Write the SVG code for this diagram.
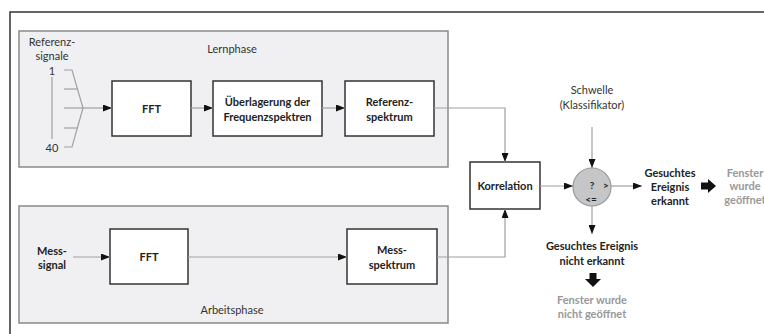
<svg xmlns="http://www.w3.org/2000/svg" width="764" height="334" viewBox="0 0 764 334">
<defs>
<marker id="ah" markerWidth="9" markerHeight="7" refX="9" refY="3.5" orient="auto" markerUnits="userSpaceOnUse">
<path d="M0,0 L9,3.5 L0,7 Z" fill="#111"/>
</marker>
</defs>
<style>
text{font-family:Lato,"Open Sans","Liberation Sans",sans-serif;text-anchor:middle;dominant-baseline:central}
.t{font-size:11px;fill:#333}
.b{font-size:11px;font-weight:bold;fill:#222}
.g{font-size:11px;font-weight:bold;fill:#999}
.s{font-size:10px;font-weight:bold;fill:#222}
.box{fill:#fff;stroke:#333;stroke-width:1.5}
.panel{fill:#f0f0f2;stroke:#8a8a8a;stroke-width:1.5}
.c{fill:none;stroke:#a0a0a0;stroke-width:1.2}
.ca{fill:none;stroke:#a0a0a0;stroke-width:1.2;marker-end:url(#ah)}
</style>
<rect x="10" y="12" width="800" height="400" fill="#fff" stroke="#333" stroke-width="1.5"/>
<g id="lernphase">
<rect class="panel" x="19" y="31" width="429" height="136"/>
<text class="t" x="232" y="48">Lernphase</text>
</g>
<g id="arbeitsphase">
<rect class="panel" x="19" y="206" width="429" height="117"/>
<text class="t" x="232" y="309">Arbeitsphase</text>
</g>
<g id="referenzsignale">
<text class="t" x="52" y="41">Referenz-</text>
<text class="t" x="52" y="55">signale</text>
<text class="t" x="52" y="70">1</text>
<text class="t" x="52" y="147">40</text>
</g>
<g id="fft1">
<rect class="box" x="112" y="81" width="79" height="55"/>
<text class="b" x="151.5" y="108.5">FFT</text>
</g>
<g id="ueberlagerung">
<rect class="box" x="213" y="81" width="109" height="55"/>
<text class="b" x="267.5" y="101">Überlagerung der</text>
<text class="b" x="267.5" y="116">Frequenzspektren</text>
</g>
<g id="referenzspektrum">
<rect class="box" x="345" y="81" width="89" height="55"/>
<text class="b" x="389.5" y="101">Referenz-</text>
<text class="b" x="389.5" y="116">spektrum</text>
</g>
<g id="messsignal">
<text class="b" x="52" y="250">Mess-</text>
<text class="b" x="52" y="264">signal</text>
</g>
<g id="fft2">
<rect class="box" x="110" y="229" width="78" height="55"/>
<text class="b" x="149" y="256.5">FFT</text>
</g>
<g id="messspektrum">
<rect class="box" x="347" y="229" width="90" height="55"/>
<text class="b" x="392" y="249">Mess-</text>
<text class="b" x="392" y="264">spektrum</text>
</g>
<g id="korrelation">
<rect class="box" x="470" y="162" width="70" height="47"/>
<text class="b" x="505" y="185.5">Korrelation</text>
</g>
<g id="schwelle">
<text class="t" x="592" y="89">Schwelle</text>
<text class="t" x="592" y="104">(Klassifikator)</text>
</g>
<g id="vergleich">
<circle cx="592" cy="187" r="19" fill="#c6c6c8" stroke="#9a9a9a" stroke-width="1.2"/>
<text class="s" x="592" y="185">?</text>
<text class="s" x="606" y="185">&gt;</text>
<text class="s" x="591" y="199">&lt;=</text>
</g>
<g id="erkannt">
<text class="b" x="670" y="172">Gesuchtes</text>
<text class="b" x="670" y="186">Ereignis</text>
<text class="b" x="670" y="200">erkannt</text>
</g>
<g id="geoeffnet">
<text class="g" x="745" y="172">Fenster</text>
<text class="g" x="745" y="185">wurde</text>
<text class="g" x="745" y="199">geöffnet</text>
</g>
<g id="nichterkannt">
<text class="b" x="592" y="245">Gesuchtes Ereignis</text>
<text class="b" x="592" y="260">nicht erkannt</text>
</g>
<g id="nichtgeoeffnet">
<text class="g" x="592" y="299">Fenster wurde</text>
<text class="g" x="592" y="313">nicht geöffnet</text>
</g>
<g id="connectors">
<polyline class="c" points="64,70 72,70 83,108 72,147 64,147"/>
<line class="c" x1="52" y1="77" x2="52" y2="139"/>
<line class="c" x1="64" y1="89" x2="77.5" y2="89"/>
<line class="c" x1="64" y1="128" x2="77.5" y2="128"/>
<line class="c" x1="64" y1="108" x2="83" y2="108"/>
<line class="ca" x1="83" y1="108" x2="112" y2="108"/>
<line class="ca" x1="191" y1="108" x2="213" y2="108"/>
<line class="ca" x1="322" y1="108" x2="345" y2="108"/>
<polyline class="ca" points="434,108 505,108 505,162"/>
<line class="ca" x1="73" y1="257" x2="110" y2="257"/>
<line class="ca" x1="188" y1="257" x2="347" y2="257"/>
<polyline class="ca" points="437,257 505,257 505,209"/>
<line class="ca" x1="540" y1="186" x2="573" y2="186"/>
<line class="ca" x1="592" y1="127" x2="592" y2="168"/>
<line class="ca" x1="611" y1="186" x2="642" y2="186"/>
<line class="ca" x1="592" y1="206" x2="592" y2="234"/>
<path d="M701,182.5 L708,182.5 L708,179 L716,186 L708,193 L708,189.5 L701,189.5 Z" fill="#111"/>
<path d="M589.5,273 L596.5,273 L596.5,279 L601,279 L593,287 L585,279 L589.5,279 Z" fill="#111"/>
</g>
</svg>
